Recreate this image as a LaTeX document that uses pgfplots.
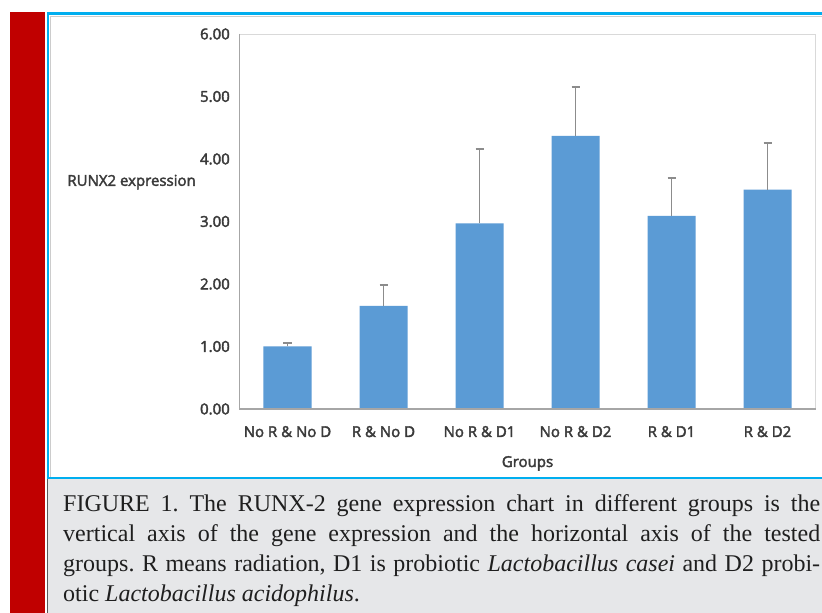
\documentclass[border=0pt]{standalone}
\usepackage{pgfplots}
\pgfplotsset{compat=1.18}
\usepackage{fontspec}
\setmainfont{Liberation Serif}
\newfontfamily\chartfont[FakeBold=2.5]{Open Sans}
\definecolor{redbar}{HTML}{C00000}
\definecolor{framecyan}{HTML}{00AEEF}
\definecolor{capgrey}{HTML}{E6E7E9}
\definecolor{barblue}{HTML}{5B9BD5}
\definecolor{errgrey}{HTML}{8C8C8C}
\definecolor{axgrey}{HTML}{A6A6A6}
\definecolor{boxgrey}{HTML}{D9D9D9}
\definecolor{txtgrey}{HTML}{3A3A3A}
\begin{document}
\begin{tikzpicture}
\useasboundingbox (0,0) rectangle (822bp,613bp);
\fill[white] (0,0) rectangle (822bp,613bp);
% red side bar
\fill[redbar] (9.5bp,0) rectangle (45bp,601bp);
% caption background
\fill[capgrey] (47bp,0) rectangle (830bp,134bp);
\draw[gray!70!black, line width=0.8bp] (47.4bp,0) -- (47.4bp,135bp);
% inner thin grey frame
\draw[gray!40, line width=0.6bp] (50.3bp,135.5bp) -- (50.3bp,596.8bp) -- (830bp,596.8bp);
% cyan frame
\draw[framecyan, line width=2.2bp] (830bp,135.3bp) -- (48.3bp,135.3bp) -- (48.3bp,599.5bp) -- (830bp,599.5bp);
% chart
\begin{axis}[
  at={(239.5bp,204bp)}, anchor=south west,
  scale only axis, width=576bp, height=375bp,
  xmin=-0.5, xmax=5.5, ymin=0, ymax=6,
  ytick={0,1,2,3,4,5,6},
  xtick=data,
  xticklabels={No R \& No D, R \& No D, No R \& D1, No R \& D2, R \& D1, R \& D2},
  major tick length=0pt,
  axis line style={boxgrey, line width=0.8bp},
  /pgf/number format/.cd, fixed, fixed zerofill, precision=2, assume math mode=true,
  /pgfplots/.cd,
  tick label style={font=\chartfont\fontsize{15bp}{18bp}\selectfont, text=txtgrey},
  yticklabel style={anchor=east, inner sep=0pt, xshift=-9.5bp},
  xticklabel style={anchor=base, inner sep=0pt, yshift=-28bp},
  every axis y label/.style={at={(axis description cs:0,0.605)}, anchor=east, inner sep=0pt, xshift=-43.5bp, font=\chartfont\fontsize{15bp}{18bp}\selectfont, text=txtgrey},
  every axis x label/.style={at={(axis description cs:0.5,0)}, anchor=base, inner sep=0pt, yshift=-58bp, font=\chartfont\fontsize{15bp}{18bp}\selectfont, text=txtgrey},
  ylabel={RUNX2 expression},
  xlabel={Groups},
  clip=false,
]
\addplot[ybar, bar width=48bp, fill=barblue, draw=none,
  error bars/.cd, y dir=plus, y explicit,
  error bar style={errgrey, line width=1.8bp},
  error mark options={errgrey, line width=1.8bp, mark size=4bp, rotate=90}]
  table[x=x, y=y, y error=e] {
x y e
0 1.00 0.06
1 1.65 0.33
2 2.97 1.19
3 4.37 0.78
4 3.09 0.61
5 3.51 0.75
};
\draw[axgrey, line width=1.1bp] (rel axis cs:0,1) -- (rel axis cs:0,0) -- (rel axis cs:1,0);
\end{axis}
% caption
\node[anchor=base west, inner sep=0pt, text=black!88] at (63bp,101bp) {\parbox[t]{757bp}{\frenchspacing\fontsize{24bp}{30bp}\selectfont
FIGURE 1. The RUNX-2 gene expression chart in different groups is the\linebreak
vertical axis of the gene expression and the horizontal axis of the tested\linebreak
groups. R means radiation, D1 is probiotic \textit{Lactobacillus casei} and D2 probi-\linebreak
otic \textit{Lactobacillus acidophilus}.}};
\end{tikzpicture}
\end{document}
